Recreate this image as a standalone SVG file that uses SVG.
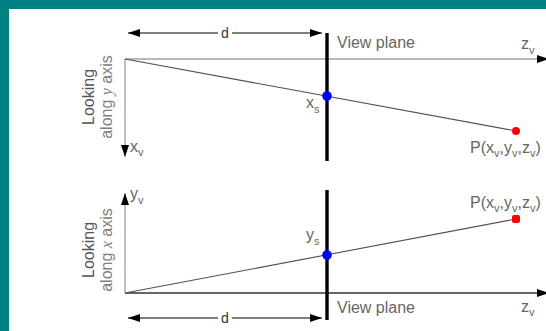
<svg xmlns="http://www.w3.org/2000/svg" width="546" height="331" viewBox="0 0 546 331">
  <defs>
    <marker id="arr" viewBox="0 0 12 8" refX="12" refY="4" markerWidth="12" markerHeight="8" orient="auto" markerUnits="userSpaceOnUse">
      <path d="M0,0 L12,4 L0,8 Z" fill="#000"/>
    </marker>
    <style>
      .lbl { font-family: "Liberation Sans", Arial, sans-serif; font-size: 16px; fill: #666; }
      .sub { font-size: 11px; }
      .dim { font-family: "Liberation Sans", Arial, sans-serif; font-size: 14px; fill: #333; text-anchor: middle; }
      .look { font-family: "Liberation Sans", Arial, sans-serif; font-size: 16px; fill: #555; text-anchor: middle; }
      .along { font-family: "Liberation Sans", Arial, sans-serif; font-size: 16px; fill: #808080; text-anchor: middle; }
      .it { font-family: "Liberation Serif", "Times New Roman", serif; font-style: italic; }
      .axisG { stroke: #a0a0a0; stroke-width: 1.3; fill: none; }
      .axisD { stroke: #333; stroke-width: 1.3; fill: none; }
      .proj { stroke: #505050; stroke-width: 1.1; fill: none; }
      .dline { stroke: #000; stroke-width: 1; fill: none; }
      .plane { stroke: #000; stroke-width: 3.4; }
    </style>
  </defs>

  <rect x="0" y="0" width="546" height="331" fill="#fff"/>
  <rect x="0" y="0" width="546" height="9" fill="#008080"/>
  <rect x="0" y="0" width="9" height="331" fill="#008080"/>

  <g id="connectors">
    <!-- top view (looking along y) -->
    <line class="axisG" x1="125" y1="59" x2="549" y2="59" marker-end="url(#arr)"/>
    <line class="axisG" x1="125" y1="59" x2="125" y2="157" marker-end="url(#arr)"/>
    <line class="proj" x1="125" y1="59" x2="516" y2="131"/>
    <line class="dline" x1="218" y1="33" x2="128" y2="33" marker-end="url(#arr)"/>
    <line class="dline" x1="232" y1="33" x2="322" y2="33" marker-end="url(#arr)"/>
    <!-- bottom view (looking along x) -->
    <line class="axisD" x1="125" y1="293" x2="549" y2="293" marker-end="url(#arr)"/>
    <line class="axisG" x1="125" y1="293" x2="125" y2="193" marker-end="url(#arr)"/>
    <line class="proj" x1="125" y1="293" x2="516" y2="219"/>
    <line class="dline" x1="218" y1="318" x2="128" y2="318" marker-end="url(#arr)"/>
    <line class="dline" x1="232" y1="318" x2="322" y2="318" marker-end="url(#arr)"/>
  </g>

  <g id="view-plane-top">
    <line class="plane" x1="327" y1="33" x2="327" y2="161"/>
    <text class="lbl" x="337" y="48">View plane</text>
  </g>
  <g id="view-plane-bottom">
    <line class="plane" x1="327" y1="190" x2="327" y2="320"/>
    <text class="lbl" x="337" y="313">View plane</text>
  </g>

  <g id="d-top"><text class="dim" x="225" y="38">d</text></g>
  <g id="d-bottom"><text class="dim" x="225" y="323">d</text></g>

  <g id="label-looking-y">
    <text class="look" transform="translate(94,97) rotate(-90)">Looking</text>
    <text class="along" transform="translate(112,97) rotate(-90)">along <tspan class="it">y</tspan> axis</text>
  </g>
  <g id="label-looking-x">
    <text class="look" transform="translate(94,250) rotate(-90)">Looking</text>
    <text class="along" transform="translate(112,250) rotate(-90)">along <tspan class="it">x</tspan> axis</text>
  </g>

  <g id="axis-labels">
    <text class="lbl" x="130" y="152">x<tspan class="sub" dy="4">v</tspan></text>
    <text class="lbl" x="521" y="49">z<tspan class="sub" dy="5">v</tspan></text>
    <text class="lbl" x="130" y="199">y<tspan class="sub" dy="5">v</tspan></text>
    <text class="lbl" x="521" y="312">z<tspan class="sub" dy="4">v</tspan></text>
  </g>

  <g id="point-xs">
    <circle cx="327" cy="96" r="4.8" fill="#0000ff"/>
    <text class="lbl" x="306" y="108">x<tspan class="sub" dy="5">s</tspan></text>
  </g>
  <g id="point-ys">
    <circle cx="327" cy="255" r="4.8" fill="#0000ff"/>
    <text class="lbl" x="306" y="240">y<tspan class="sub" dy="5">s</tspan></text>
  </g>

  <g id="point-P-top">
    <circle cx="516" cy="131" r="4" fill="#ff0000"/>
    <text class="lbl" x="470" y="153">P(x<tspan class="sub" dy="4">v</tspan><tspan dy="-4">,y</tspan><tspan class="sub" dy="4">v</tspan><tspan dy="-4">,z</tspan><tspan class="sub" dy="4">v</tspan><tspan dy="-4">)</tspan></text>
  </g>
  <g id="point-P-bottom">
    <rect x="512" y="215" width="8" height="8" rx="2" fill="#ff0000"/>
    <text class="lbl" x="470" y="208">P(x<tspan class="sub" dy="4">v</tspan><tspan dy="-4">,y</tspan><tspan class="sub" dy="4">v</tspan><tspan dy="-4">,z</tspan><tspan class="sub" dy="4">v</tspan><tspan dy="-4">)</tspan></text>
  </g>
</svg>
